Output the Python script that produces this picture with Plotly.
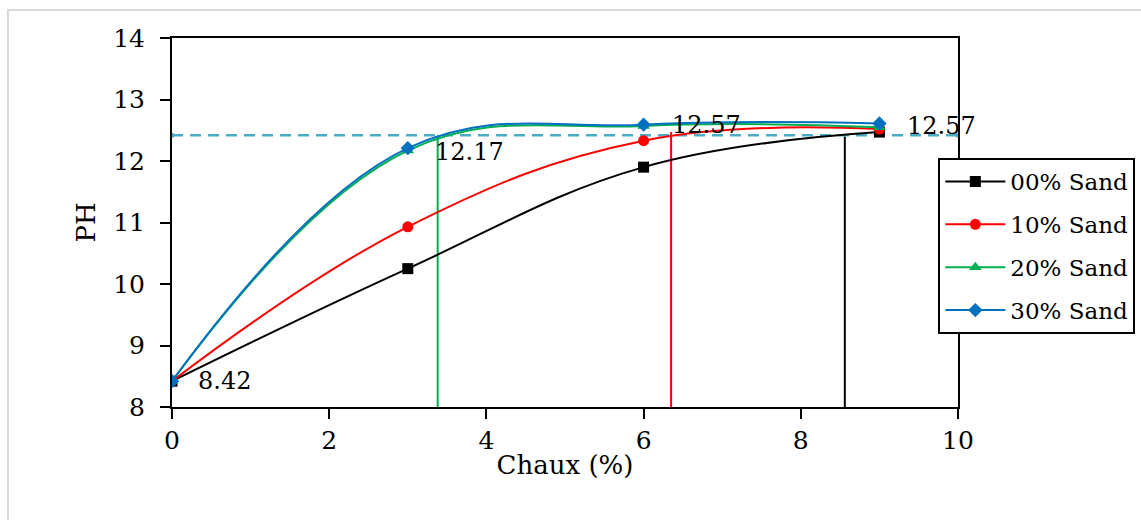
import plotly.graph_objects as go

# Lime content (%) and measured pH for each sand proportion
chaux = [0, 3, 6, 9]
series_names = ["00% Sand", "10% Sand", "20% Sand", "30% Sand"]
ph_00 = [8.42, 10.25, 11.90, 12.47]
ph_10 = [8.42, 10.93, 12.33, 12.52]
ph_20 = [8.42, 12.17, 12.57, 12.55]
ph_30 = [8.42, 12.21, 12.59, 12.61]

colors = ["#000000", "#FF0000", "#00B050", "#0070C0"]
symbols = ["square", "circle", "triangle-up", "diamond"]

# Reference pH level and the lime contents where each curve reaches it
ph_ref = 12.42
cross_x = [8.56, 6.35, 3.38]
cross_top = [12.40, 12.47, 12.42]
cross_colors = ["#000000", "#FF0000", "#00B050"]

# Value labels: (x, y, text)
labels = [(0.3, 8.42, "8.42"), (3.32, 12.15, "12.17"),
          (6.34, 12.59, "12.57"), (9.33, 12.57, "12.57")]

FONT = "DejaVu Serif"

fig = go.Figure()

# vertical drop lines from the reference level to the x-axis
for x, top, c in zip(cross_x, cross_top, cross_colors):
    fig.add_trace(go.Scatter(x=[x, x], y=[8, top], mode="lines",
                             line=dict(color=c, width=2), showlegend=False,
                             hoverinfo="skip"))

# dashed reference line
fig.add_trace(go.Scatter(x=[0, 10], y=[ph_ref, ph_ref], mode="lines+markers",
                         line=dict(color="#4BACC6", width=2.5, dash="11px,7px"),
                         marker=dict(size=5, color="#4BACC6"),
                         showlegend=False, hoverinfo="skip"))

for name, ys, c, s in zip(series_names, [ph_00, ph_10, ph_20, ph_30], colors, symbols):
    fig.add_trace(go.Scatter(x=chaux, y=ys, name=name, legendgroup=name,
                             mode="lines+markers",
                             line=dict(color=c, width=2, shape="spline", smoothing=1.15),
                             marker=dict(symbol=s, size=11, color=c)))

for x, y, t in labels:
    fig.add_annotation(x=x, y=y, text=t, showarrow=False, xanchor="left",
                       yanchor="middle", font=dict(family=FONT, size=24, color="#000"))

# light outer frame
fig.add_shape(type="rect", xref="paper", yref="paper",
              x0=-0.2087, x1=1.25, y0=-0.35, y1=1.0759,
              line=dict(color="#D9D9D9", width=2), layer="below")

axis_common = dict(showline=True, linecolor="#000", linewidth=2, mirror=True,
                   ticks="outside", ticklen=10, tickwidth=2, tickcolor="#000",
                   showgrid=False, zeroline=False, automargin=False,
                   tickfont=dict(family=FONT, size=25, color="#000"))

fig.update_layout(
    width=1141, height=520,
    margin=dict(l=172, r=183, t=38, b=113, autoexpand=False),
    paper_bgcolor="#FFFFFF", plot_bgcolor="#FFFFFF",
    xaxis=dict(range=[0, 10], dtick=2, ticklabelstandoff=0,
               title=dict(text="Chaux (%)", standoff=2,
                          font=dict(family=FONT, size=26, color="#000")), **axis_common),
    yaxis=dict(range=[8, 14], dtick=1, ticklabelstandoff=10,
               title=dict(text="PH", standoff=10,
                          font=dict(family=FONT, size=26, color="#000")), **axis_common),
    legend=dict(x=0.975, y=0.675, xanchor="left", yanchor="top",
                bgcolor="#FFFFFF", bordercolor="#000", borderwidth=2,
                font=dict(family=FONT, size=23, color="#000"),
                tracegroupgap=10, itemwidth=60),
    showlegend=True,
)

fig.write_html("out.html")
